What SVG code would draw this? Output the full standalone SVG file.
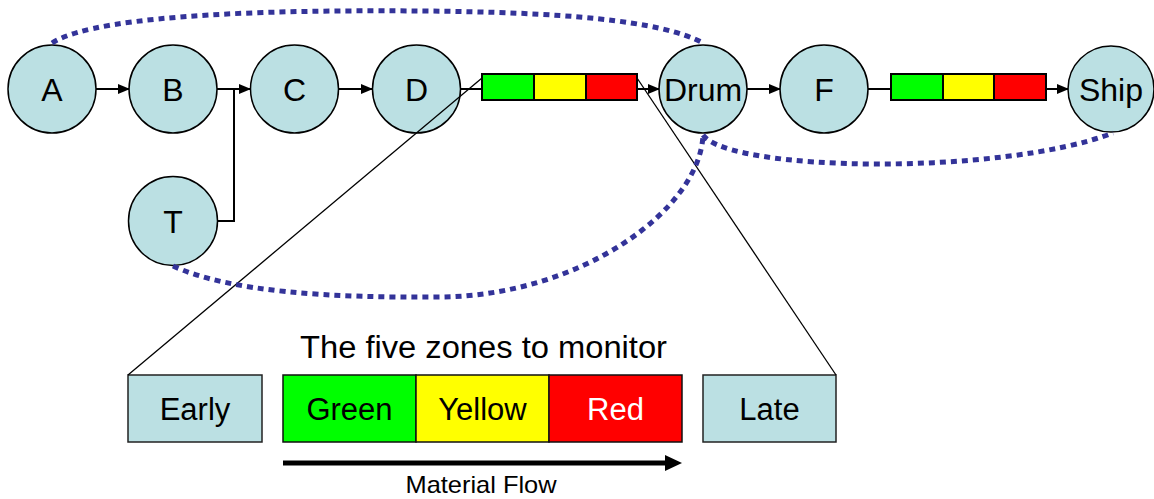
<svg xmlns="http://www.w3.org/2000/svg" width="1154" height="499" viewBox="0 0 1154 499">
<style>
.node{fill:#bbe0e3;stroke:#000;stroke-width:1.5}
.lbl{font-family:"Liberation Sans",Arial,sans-serif;font-size:32px;fill:#000;text-anchor:middle}
.blbl{font-family:"Liberation Sans",Arial,sans-serif;font-size:31px;fill:#000;text-anchor:middle}
.edge{stroke:#000;stroke-width:2;fill:none}
.thin{stroke:#000;stroke-width:1.3;fill:none}
.dot{stroke:#333399;stroke-width:5;fill:none;stroke-dasharray:6 5}
.bar{stroke:#000;stroke-width:2}
.box{fill:#bbe0e3;stroke:#222;stroke-width:1.5}
.zone{stroke:#111;stroke-width:1.5}
</style>
<defs>
<marker id="arr" markerUnits="userSpaceOnUse" markerWidth="12" markerHeight="10" refX="11" refY="5" orient="auto">
<path d="M0,0 L12,5 L0,10 Z" fill="#000"/>
</marker>
</defs>
<g id="node-A"><circle class="node" cx="52" cy="89" r="44"/><text class="lbl" x="52" y="101">A</text></g>
<g id="node-B"><circle class="node" cx="173" cy="89" r="44"/><text class="lbl" x="173" y="101">B</text></g>
<g id="node-C"><circle class="node" cx="294.5" cy="89" r="44"/><text class="lbl" x="294.5" y="101">C</text></g>
<g id="node-D"><circle class="node" cx="416.5" cy="89" r="44"/><text class="lbl" x="416.5" y="101">D</text></g>
<g id="node-T"><circle class="node" cx="173" cy="221" r="44.5"/><text class="lbl" x="173" y="233">T</text></g>
<g id="node-Drum"><circle class="node" cx="703" cy="89" r="44"/><text class="lbl" x="703" y="101">Drum</text></g>
<g id="node-F"><circle class="node" cx="824" cy="89" r="44"/><text class="lbl" x="824" y="101">F</text></g>
<g id="node-Ship"><circle class="node" cx="1111" cy="89" r="43"/><text class="lbl" x="1111" y="101">Ship</text></g>
<g id="buffer-1">
<rect class="bar" x="482" y="74" width="52" height="26" fill="#00ff00"/>
<rect class="bar" x="534" y="74" width="52" height="26" fill="#ffff00"/>
<rect class="bar" x="586" y="74" width="51" height="26" fill="#ff0000"/>
</g>
<g id="buffer-2">
<rect class="bar" x="891" y="74" width="52" height="26" fill="#00ff00"/>
<rect class="bar" x="943" y="74" width="51" height="26" fill="#ffff00"/>
<rect class="bar" x="994" y="74" width="52" height="26" fill="#ff0000"/>
</g>
<g id="zone-early"><rect class="box" x="128" y="375" width="134" height="67"/><text class="blbl" x="195" y="420">Early</text></g>
<g id="zone-green"><rect class="zone" x="283" y="375" width="133" height="67" fill="#00ff00"/><text class="blbl" x="349.5" y="420">Green</text></g>
<g id="zone-yellow"><rect class="zone" x="416" y="375" width="133" height="67" fill="#ffff00"/><text class="blbl" x="482.5" y="420">Yellow</text></g>
<g id="zone-red"><rect class="zone" x="549" y="375" width="133" height="67" fill="#ff0000"/><text class="blbl" x="615.5" y="420" fill="#fff" style="fill:#fff">Red</text></g>
<g id="zone-late"><rect class="box" x="703" y="375" width="133" height="67"/><text class="blbl" x="769.5" y="420">Late</text></g>
<g id="title"><text class="blbl" x="483.5" y="358" textLength="367" lengthAdjust="spacingAndGlyphs">The five zones to monitor</text></g>
<g id="material-flow">
<line x1="283" y1="463" x2="667" y2="463" stroke="#000" stroke-width="5"/>
<path d="M665,455 L682,463 L665,471 Z" fill="#000"/>
<text x="481" y="493" font-family="Liberation Sans, Arial, sans-serif" font-size="24" text-anchor="middle" textLength="151" lengthAdjust="spacingAndGlyphs">Material Flow</text>
</g>
<g id="connectors">
<line class="edge" x1="96" y1="89" x2="129" y2="89" marker-end="url(#arr)"/>
<line class="edge" x1="217" y1="89" x2="250" y2="89" marker-end="url(#arr)"/>
<polyline class="edge" points="217.5,221 234,221 234,89"/>
<line class="edge" x1="339" y1="89" x2="372" y2="89" marker-end="url(#arr)"/>
<line class="edge" x1="461" y1="89" x2="482" y2="89"/>
<line class="edge" x1="637" y1="89" x2="659" y2="89" marker-end="url(#arr)"/>
<line class="edge" x1="747" y1="89" x2="780" y2="89" marker-end="url(#arr)"/>
<line class="edge" x1="868" y1="89" x2="891" y2="89"/>
<line class="edge" x1="1046" y1="89" x2="1068" y2="89" marker-end="url(#arr)"/>
<line class="thin" x1="128" y1="375" x2="482" y2="78"/>
<line class="thin" x1="637" y1="78" x2="836" y2="375"/>
<path class="dot" d="M52,43 C100,12 300,10 420,11 C560,12 660,20 703,43"/>
<path class="dot" d="M173,266 C230,292 330,298 440,297 C580,296 700,210 703,135"/>
<path class="dot" d="M703,135 C730,172 1000,176 1113,133"/>
</g>
</svg>
